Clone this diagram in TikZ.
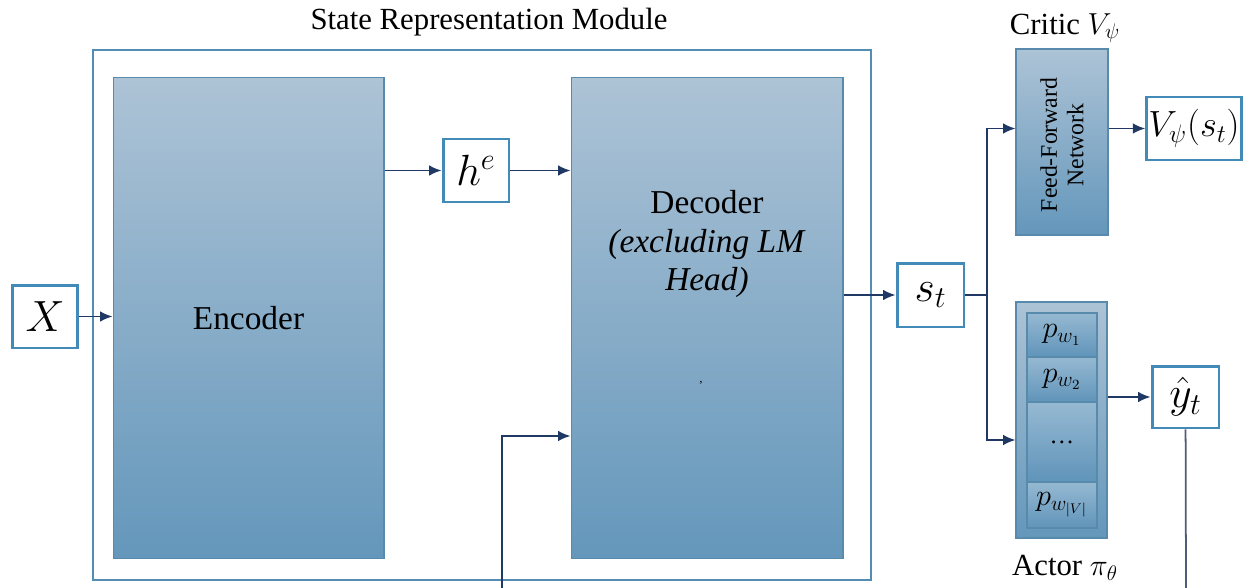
\documentclass[tikz,border=0pt]{standalone}
\usepackage{amsmath}
\usepackage{fontspec}
\setmainfont{Liberation Serif}
\usepackage{tikz}
\usetikzlibrary{arrows.meta, positioning, calc}
\definecolor{mynavy}{RGB}{31,56,100}
\definecolor{myframe}{RGB}{84,141,180}
\definecolor{myedge}{RGB}{88,138,172}
\definecolor{myboxline}{RGB}{66,138,184}
\definecolor{blktop}{RGB}{173,195,214}
\definecolor{blkbot}{RGB}{100,151,187}
\definecolor{celltop}{RGB}{150,185,210}
\definecolor{cellbot}{RGB}{96,148,186}
\definecolor{myslate}{RGB}{80,92,120}
\tikzset{
  block/.style={rectangle, draw=myedge, top color=blktop, bottom color=blkbot,
    line width=0.6pt, font=\fontsize{19}{22}\selectfont},
  cell/.style={rectangle, draw=myedge, top color=celltop, bottom color=cellbot,
    line width=0.6pt, minimum width=1.4cm, font=\fontsize{17}{19}\selectfont},
  varbox/.style={rectangle, draw=myboxline, fill=white, line width=1.7pt,
    minimum width=1.3cm, minimum height=1.26cm, inner sep=1pt,
    font=\fontsize{26}{30}\selectfont},
  caption/.style={font=\fontsize{17.5}{20}\selectfont},
  arrow/.style={-{Latex[length=7pt,width=6pt]}, line width=1pt, color=mynavy},
  line/.style={line width=1pt, color=mynavy}
}

\begin{document}
\begin{tikzpicture}[x=0.02cm, y=-0.02cm]
  \useasboundingbox (0,0) rectangle (1248,588);

  % state representation module
  \draw[myframe, line width=0.9pt] (93,50) rectangle (871,580);
  \node[caption] (srm) at (489,22) {State Representation Module};
  \node[block, minimum width=5.42cm, minimum height=9.64cm] (enc) at (248.5,318) {Encoder};
  \node[block, minimum width=5.44cm, minimum height=9.64cm] (dec) at (707,318) {};
  \node[font=\fontsize{19}{22}\selectfont, align=center] (dectxt) at (707,244)
    {Decoder\\ \textit{(excluding LM}\\ \textit{Head)}};
  \node[font=\scriptsize, inner sep=0pt] (tick) at (701,385) {'};

  \node[varbox, font=\fontsize{24}{28}\selectfont] (x) at (45,316.5) {$X$};
  \node[varbox, minimum width=1.32cm] (he) at (476,170.5) {$h^e$};
  \node[varbox, minimum width=1.34cm, minimum height=1.28cm] (st) at (930.5,295) {$s_t$};

  % critic
  \node[caption] (critlbl) at (1065,28) {Critic $V_\psi$};
  \node[block, minimum width=1.84cm, minimum height=3.72cm] (ffn) at (1062,142) {};
  \node[rotate=90, align=center, font=\fontsize{13.5}{15}\selectfont] (ffntxt) at (1062,145)
    {Feed-Forward\\Network};
  \node[varbox, minimum width=1.8cm, font=\fontsize{20}{24}\selectfont] (vpsi) at (1194,128.5) {$V_\psi(s_t)$};

  % actor
  \node[block, minimum width=1.82cm, minimum height=4.72cm] (actor) at (1061.5,420) {};
  \node[cell, minimum height=0.88cm] (pw1) at (1062,335) {$p_{w_1}$};
  \node[cell, minimum height=0.9cm] (pw2) at (1062,379.5) {$p_{w_2}$};
  \node[cell, minimum height=1.6cm, font=\fontsize{14}{16}\selectfont] (pdots) at (1062,442) {\dots};
  \node[cell, minimum height=0.92cm] (pwv) at (1062,505) {$p_{w_{|V|}}$};
  \node[caption] (actlbl) at (1065,568) {Actor $\pi_\theta$};
  \node[varbox, minimum width=1.34cm, minimum height=1.24cm] (yhat) at (1185.5,397) {$\hat{y}_t$};

  \coordinate (split) at (987,295);
  \coordinate (fbin) at (502,588);
  \coordinate (yout) at (1186,588);

  \draw[arrow] (x) -- (x -| enc.west);
  \draw[arrow] (enc.east |- he) -- (he);
  \draw[arrow] (he) -- (he -| dec.west);
  \draw[arrow] (dec.east |- st) -- (st);
  \draw[line] (st) -- (split);
  \draw[arrow] (split) |- (ffn.west |- vpsi);
  \draw[arrow] (split) |- ([yshift=-0.4cm]actor.west);
  \draw[arrow] (ffn.east |- vpsi) -- (vpsi);
  \draw[arrow] (actor.east |- yhat) -- (yhat);
  \draw[line, color=myslate] (yhat) -- (yout);
  \draw[arrow] (fbin) |- ([yshift=-2.36cm]dec.west);
\end{tikzpicture}
\end{document}
